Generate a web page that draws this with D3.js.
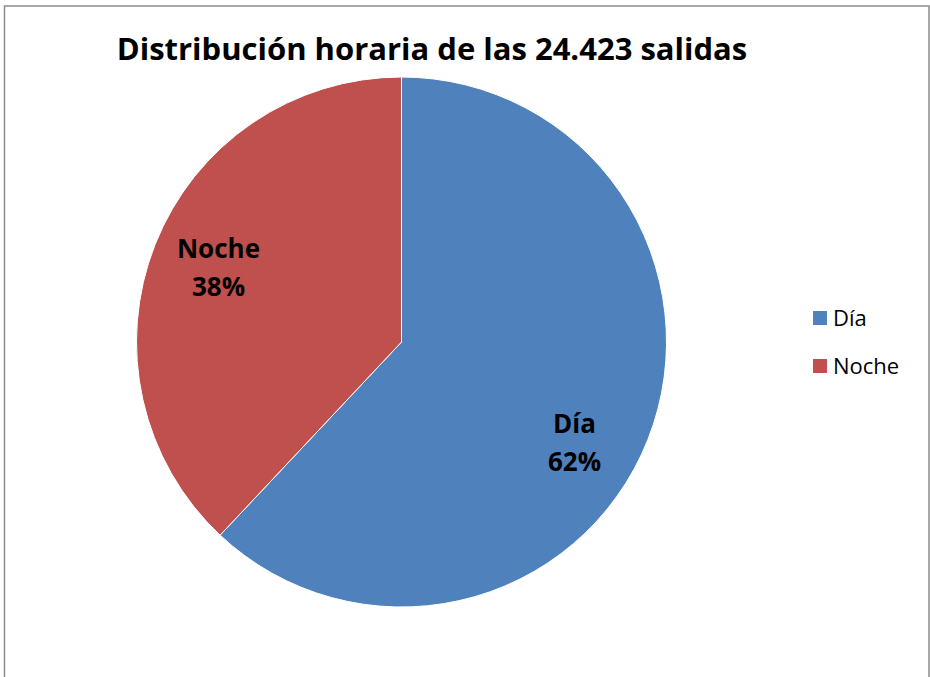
<!DOCTYPE html>
<html>
<head>
<meta charset="utf-8">
<script src="https://cdn.jsdelivr.net/npm/d3@7"></script>
<style>
  body { margin: 0; background: #fff; }
  text { font-family: "Open Sans", "Liberation Sans", sans-serif; }
</style>
</head>
<body>
<div id="canvas"></div>
<script>
"use strict"

/* Chart data */
let categories = ["Día", "Noche"];
let values = [62, 38];
let colors = ["#4F81BD", "#C0504D"];
let titleText = "Distribución horaria de las 24.423 salidas";

/* Drawing setup */
let svgWidth = 930;
let svgHeight = 677;
let cx = 401.5;
let cy = 342;
let radius = 265;
// label nudges (Excel "best fit" placement is not exactly the centroid)
let labelNudge = [[-13, 27], [3, 0]];

let svg = d3.select("#canvas")
    .append("svg")
    .attr("width", svgWidth)
    .attr("height", svgHeight);

/* chart border (bottom runs off the picture) */
svg.append("rect")
    .attr("x", 4.5)
    .attr("y", 6)
    .attr("width", 924.5)
    .attr("height", 700)
    .attr("fill", "#fff")
    .attr("stroke", "#8c8c8c")
    .attr("stroke-width", 1.5);

/* title */
svg.append("text")
    .attr("x", 432)
    .attr("y", 60)
    .attr("text-anchor", "middle")
    .attr("font-size", 31)
    .attr("font-weight", "bold")
    .text(titleText);

let data = categories.map(function (c, i) { return { name: c, value: values[i], color: colors[i], idx: i }; });

let pie = d3.pie()
    .sort(null)
    .value(function (d) { return d.value; });

let arc = d3.arc()
    .innerRadius(0)
    .outerRadius(radius);

let labelArc = d3.arc()
    .innerRadius(radius * 0.755)
    .outerRadius(radius * 0.755);

let g = svg.append("g")
    .attr("transform", "translate(" + cx + "," + cy + ")");

let slices = pie(data);

g.selectAll("path")
    .data(slices)
    .join("path")
    .attr("d", arc)
    .attr("fill", function (d) { return d.data.color; })
    .attr("stroke", "#fff")
    .attr("stroke-width", 1);

/* slice labels: name + percent */
let total = d3.sum(values);
let labels = g.selectAll("g.lbl")
    .data(slices)
    .join("g")
    .attr("class", "lbl")
    .attr("transform", function (d) {
        let c = labelArc.centroid(d);
        let n = labelNudge[d.data.idx];
        return "translate(" + (c[0] + n[0]) + "," + (c[1] + n[1]) + ")";
    });

labels.append("text")
    .attr("text-anchor", "middle")
    .attr("y", -10)
    .attr("font-size", 26)
    .attr("font-weight", "bold")
    .text(function (d) { return d.data.name; });

labels.append("text")
    .attr("text-anchor", "middle")
    .attr("y", 28)
    .attr("font-size", 26)
    .attr("font-weight", "bold")
    .text(function (d) { return Math.round(d.data.value / total * 100) + "%"; });

/* legend */
let legend = svg.selectAll("g.legend")
    .data(data)
    .join("g")
    .attr("class", "legend")
    .attr("transform", function (d, i) { return "translate(813," + (311 + i * 48) + ")"; });

legend.append("rect")
    .attr("width", 14)
    .attr("height", 14)
    .attr("fill", function (d) { return d.color; });

legend.append("text")
    .attr("x", 20)
    .attr("y", 15)
    .attr("font-size", 22)
    .text(function (d) { return d.name; });
</script>
</body>
</html>
